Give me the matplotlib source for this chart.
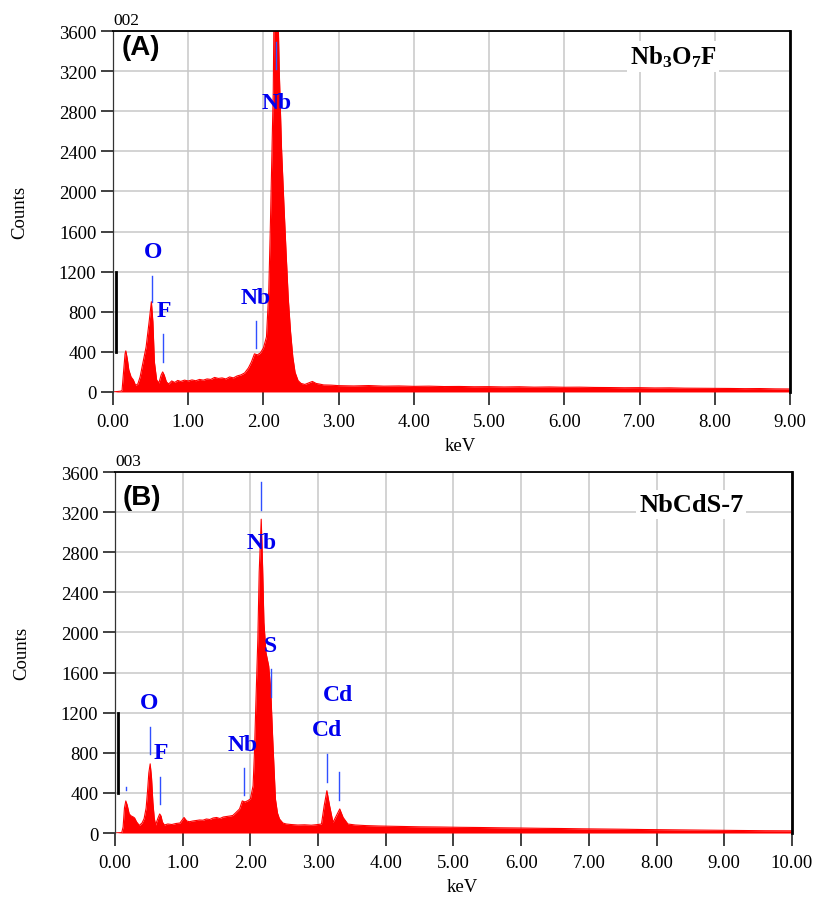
import matplotlib
matplotlib.use("Agg")
import matplotlib.pyplot as plt
import matplotlib.transforms as mtransforms

plt.rcParams['font.family'] = ['Liberation Serif', 'DejaVu Serif']
plt.rcParams['mathtext.default'] = 'regular'

# ---- spectrum (A): Nb3O7F ----
energy_a = [0.00, 0.10, 0.12, 0.14, 0.16, 0.17, 0.19, 0.21, 0.24, 0.27, 0.30, 0.33,
            0.36, 0.40, 0.44, 0.48, 0.51, 0.53, 0.55, 0.58, 0.61, 0.64, 0.66, 0.68,
            0.71, 0.74, 0.78, 0.82, 0.86, 0.90, 0.95, 1.00, 1.05, 1.10, 1.15, 1.20,
            1.25, 1.30, 1.35, 1.40, 1.45, 1.50, 1.55, 1.60, 1.65, 1.70, 1.75, 1.80,
            1.84, 1.88, 1.92, 1.96, 2.00, 2.04, 2.07, 2.09, 2.11, 2.13, 2.14, 2.16,
            2.19, 2.21, 2.24, 2.27, 2.30, 2.33, 2.36, 2.39, 2.42, 2.46, 2.50, 2.55,
            2.60, 2.65, 2.70, 2.75, 2.80, 2.90, 3.00, 3.20, 3.40, 3.60, 3.80, 4.00,
            4.20, 4.40, 4.60, 4.80, 5.00, 5.20, 5.40, 5.60, 5.80, 6.00, 6.20, 6.40,
            6.60, 6.80, 7.00, 7.20, 7.40, 7.60, 7.80, 8.00, 8.20, 8.40, 8.60, 8.80, 9.00]
counts_a = [0, 8, 15, 200, 380, 410, 330, 220, 150, 120, 65, 80,
            150, 300, 450, 700, 900, 700, 300, 120, 90, 170, 200, 170,
            100, 80, 110, 95, 115, 105, 118, 110, 120, 112, 125, 118,
            130, 125, 145, 135, 140, 130, 150, 140, 160, 170, 190, 240,
            300, 380, 370, 390, 440, 550, 1000, 1600, 2300, 3000, 3800, 4200,
            3900, 3200, 2430, 1900, 1400, 930, 600, 350, 196, 113, 85, 75,
            90, 105, 85, 78, 70, 68, 63, 60, 64, 58, 60, 56,
            58, 54, 55, 52, 53, 50, 52, 48, 50, 47, 48, 45,
            44, 42, 43, 40, 41, 38, 37, 36, 35, 33, 34, 31, 30]

# ---- spectrum (B): NbCdS-7 ----
energy_b = [0.00, 0.10, 0.12, 0.14, 0.16, 0.18, 0.21, 0.24, 0.27, 0.29, 0.32, 0.36,
            0.40, 0.43, 0.46, 0.48, 0.50, 0.52, 0.54, 0.56, 0.58, 0.60, 0.63, 0.66,
            0.68, 0.70, 0.73, 0.78, 0.84, 0.90, 0.96, 1.02, 1.06, 1.10, 1.15, 1.20,
            1.25, 1.30, 1.35, 1.40, 1.45, 1.50, 1.55, 1.60, 1.65, 1.70, 1.74, 1.78,
            1.84, 1.88, 1.92, 1.96, 2.00, 2.04, 2.06, 2.08, 2.11, 2.13, 2.15, 2.16,
            2.17, 2.18, 2.20, 2.23, 2.27, 2.30, 2.33, 2.37, 2.40, 2.43, 2.48, 2.53,
            2.60, 2.70, 2.80, 2.90, 3.00, 3.05, 3.09, 3.13, 3.17, 3.22, 3.27, 3.32,
            3.37, 3.44, 3.55, 3.71, 3.90, 4.20, 4.50, 4.80, 5.10, 5.40, 5.70, 6.00,
            6.30, 6.60, 6.90, 7.20, 7.50, 7.80, 8.10, 8.40, 8.70, 9.00, 9.30, 9.60, 10.00]
counts_b = [0, 5, 60, 250, 320, 280, 190, 170, 160, 150, 110, 76,
            100, 143, 250, 408, 600, 690, 550, 306, 150, 80, 140, 190,
            170, 110, 80, 90, 85, 95, 100, 155, 120, 113, 120, 125,
            130, 128, 140, 135, 150, 155, 145, 160, 165, 170, 175, 200,
            240, 320, 310, 322, 339, 472, 800, 1270, 1934, 2600, 2950, 3130,
            2900, 2665, 2100, 1800, 1668, 1435, 937, 339, 200, 140, 100, 90,
            85, 80, 82, 78, 85, 90, 272, 422, 272, 106, 173, 240,
            155, 90, 80, 74, 70, 66, 62, 60, 57, 55, 52, 50,
            47, 45, 42, 40, 38, 35, 33, 31, 29, 27, 25, 23, 22]

# peak annotations: text, text x, text y, marker x, marker low, marker high
peaks_a = [('O', 0.53, 1396, 0.52, 897, 1160),
           ('F', 0.67, 811, 0.67, 299, 578),
           ('Nb', 1.89, 947, 1.90, 436, 711),
           ('Nb', 2.17, 2890, 2.17, 3220, 3490)]
peaks_b = [('', 0.16, 0, 0.16, 430, 455),
           ('O', 0.51, 1303, 0.52, 788, 1054),
           ('F', 0.68, 804, 0.66, 289, 555),
           ('Nb', 1.88, 887, 1.90, 379, 645),
           ('Nb', 2.16, 2898, 2.16, 3224, 3497),
           ('S', 2.29, 1868, 2.30, 1353, 1635),
           ('Cd', 3.13, 1037, 3.13, 512, 788),
           ('Cd', 3.30, 1386, 3.31, 332, 611)]

yticks = list(range(0, 3601, 400))


def draw_panel(ax, energy, counts, xmax, tag, tag_y, run_id, title, title_xy, title_size, peaks):
    ax.fill_between(energy, 0, counts, color='#ff0000', lw=0, zorder=2)
    ax.plot(energy, counts, color='#ff0000', lw=0.8, zorder=2)
    ax.set_xlim(0, xmax)
    ax.set_ylim(0, 3600)
    ax.set_xticks(range(0, xmax + 1))
    ax.set_xticklabels([f'{v:.2f}' for v in range(0, xmax + 1)])
    ax.set_yticks(yticks)
    ax.grid(True, color='#c8c8c8', lw=1.1, zorder=0)
    ax.set_axisbelow(True)
    ax.tick_params(axis='both', labelsize=13.5, color='#333333', width=1.3, length=9)
    ax.tick_params(axis='x', pad=6)
    ax.tick_params(axis='y', pad=3)
    ax.yaxis.get_major_ticks()[2].tick1line.set_color('#bbbbbb')

    ax.spines['bottom'].set_visible(False)
    ax.spines['left'].set_color('#333333')
    ax.spines['left'].set_linewidth(0.9)
    ax.spines['top'].set_color('black')
    ax.spines['top'].set_linewidth(1.3)
    ax.spines['right'].set_color('black')
    ax.spines['right'].set_linewidth(2.0)

    # bracket on the left axis
    tr = mtransforms.blended_transform_factory(ax.transAxes, ax.transData)
    ax.plot([0.004, 0.004], [400, 1200], color='black', lw=2, transform=tr,
            clip_on=False, zorder=5)

    ax.set_xlabel('keV', fontsize=13.5)
    ax.xaxis.set_label_coords(0.513, -0.125)
    ax.set_ylabel('Counts', fontsize=13.5)
    ax.yaxis.set_label_coords(-0.125, 0.5)

    ax.text(0.0, 1.008, run_id, transform=ax.transAxes, fontsize=12.5,
            ha='left', va='bottom')
    ax.text(0.012, tag_y, tag, transform=ax.transAxes, fontsize=20,
            family='Liberation Sans', weight='bold', ha='left', va='center')
    ax.text(title_xy[0], title_xy[1], title, transform=ax.transAxes, fontsize=title_size,
            weight='bold', ha='center', va='center', zorder=6,
            bbox=dict(facecolor='white', edgecolor='none', pad=2))

    for text, tx, ty, mx, lo, hi in peaks:
        ax.plot([mx, mx], [lo, hi], color='#3050ff', lw=1.0, zorder=4)
        if text:
            ax.text(tx, ty, text, color='#0000ee', fontsize=17, weight='bold',
                    ha='center', va='center', zorder=6)


fig = plt.figure(figsize=(8.16, 9.04), dpi=100)
ax_a = fig.add_axes([0.1385, 0.5653, 0.8297, 0.3993])
ax_b = fig.add_axes([0.1409, 0.0774, 0.8297, 0.3993])

draw_panel(ax_a, energy_a, counts_a, 9, '(A)', 0.955, '002',
           'Nb$_3$O$_7$F', (0.827, 0.93), 18, peaks_a)
draw_panel(ax_b, energy_b, counts_b, 10, '(B)', 0.931, '003',
           'NbCdS-7', (0.851, 0.911), 19, peaks_b)

fig.savefig('out.png', dpi=100, facecolor='white')
